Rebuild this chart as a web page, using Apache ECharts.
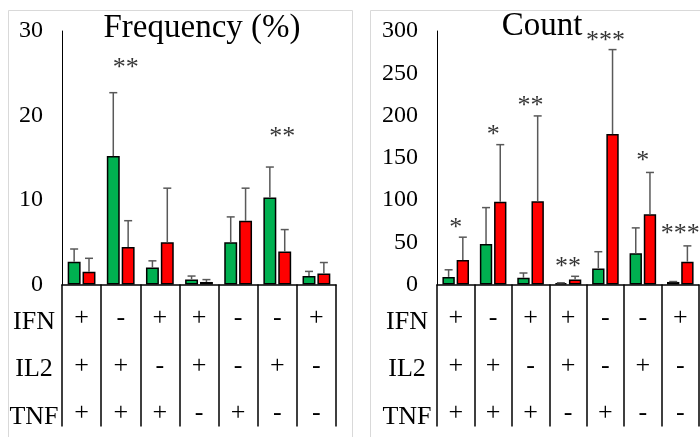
<!DOCTYPE html>
<html>
<head>
<meta charset="utf-8">
<script src="https://cdn.jsdelivr.net/npm/echarts@6/dist/echarts.min.js"></script>
<style>html,body{margin:0;padding:0;background:#fff}#c{width:700px;height:437px}</style>
</head>
<body>
<div id="c"></div>
<script>
// ---- data ----
var categories = ['1', '2', '3', '4', '5', '6', '7'];
var ifnRow = ['+', '-', '+', '+', '-', '-', '+'];
var il2Row = ['+', '+', '-', '+', '-', '+', '-'];
var tnfRow = ['+', '+', '+', '-', '+', '-', '-'];
var rowNames = ['IFN', 'IL2', 'TNF'];

var freqGreen = [2.7, 15.2, 2.0, 0.6, 5.0, 10.3, 1.0];
var freqGreenErr = [1.5, 7.5, 0.8, 0.4, 3.0, 3.6, 0.55];
var freqRed = [1.5, 4.45, 5.0, 0.3, 7.55, 3.9, 1.3];
var freqRedErr = [1.6, 3.1, 6.4, 0.28, 3.85, 2.6, 1.3];
var freqSig = ['', '**', '', '', '', '**', ''];
var freqSigPos = [null, 26.2, null, null, null, 18.0, null];

var countGreen = [9, 48, 8, 1.5, 19, 37, 3];
var countGreenErr = [8.4, 43, 5.6, 0.5, 19.8, 30, 0.5];
var countRed = [29, 98, 98.5, 5.8, 178, 83, 27];
var countRedErr = [27, 67.5, 101, 3.9, 100, 49.6, 18.7];
var countSig = ['*', '*', '**', '**', '***', '*', '***'];
var countSigPos = [72, 182.6, 217, 26.7, 294, 152, 65];

var yTicksFreq = {min: 0, max: 30, interval: 10};
var yTicksCount = {min: 0, max: 300, interval: 50};
var titles = ['Frequency (%)', 'Count'];

// ---- styling ----
var SERIF = 'Liberation Serif';
var GREEN = '#00b050', RED = '#ff0000';
var CAT_GAP = 0.29, BAR_GAP = 0.15;

function errSeries(gi, vals, errs, side) {
  return {
    type: 'custom', xAxisIndex: gi, yAxisIndex: gi, z: 5, silent: true,
    data: vals.map(function (v, i) { return [i, v, v + errs[i]]; }),
    renderItem: function (params, api) {
      var band = api.size([1, 0])[0];
      var bw = band * (1 - CAT_GAP) / (2 + BAR_GAP);
      var off = side * bw * (1 + BAR_GAP) / 2;
      var p0 = api.coord([api.value(0), api.value(1)]);
      var p1 = api.coord([api.value(0), api.value(2)]);
      var x = p0[0] + off;
      var st = {stroke: '#595959', lineWidth: 1.5};
      return {type: 'group', children: [
        {type: 'line', shape: {x1: x, y1: p0[1], x2: x, y2: p1[1]}, style: st},
        {type: 'line', shape: {x1: x - 4, y1: p1[1], x2: x + 4, y2: p1[1]}, style: st}
      ]};
    }
  };
}

function barSeries(gi, vals, color) {
  return {
    type: 'bar', xAxisIndex: gi, yAxisIndex: gi, data: vals,
    barCategoryGap: (CAT_GAP * 100) + '%', barGap: (BAR_GAP * 100) + '%',
    itemStyle: {color: color, borderColor: '#000', borderWidth: 1.5},
    silent: true
  };
}

function sigSeries(gi, labels, pos, dx) {
  return {
    type: 'scatter', xAxisIndex: gi, yAxisIndex: gi, symbolSize: 1, z: 6, silent: true,
    itemStyle: {color: 'rgba(0,0,0,0)'},
    data: pos.map(function (p, i) { return p == null ? null : {value: [i, p], lab: labels[i]}; }).filter(function (d) { return d; }),
    label: {
      show: true, position: 'inside', offset: [dx, 5],
      formatter: function (p) { return p.data.lab; },
      fontFamily: SERIF, fontSize: 26, color: '#000'
    }
  };
}

var grids = [
  {left: 62, right: 364, top: 31, bottom: 147},
  {left: 437, right: 1, top: 31, bottom: 147}
];

function xAxis(gi) {
  return {
    type: 'category', gridIndex: gi, data: categories,
    axisLine: {lineStyle: {color: '#000', width: 1.5}},
    axisTick: {show: true, interval: 0, length: 142, lineStyle: {color: '#000', width: 1.5}},
    axisLabel: {
      interval: 0, margin: 10, fontFamily: SERIF, fontSize: 26, lineHeight: 47.5, color: '#000',
      formatter: function (v, i) { return ifnRow[i] + '\n' + il2Row[i] + '\n' + tnfRow[i]; }
    }
  };
}
function yAxis(gi, t) {
  return {
    type: 'value', gridIndex: gi, min: t.min, max: t.max, interval: t.interval,
    splitLine: {show: false},
    axisLine: {show: true, lineStyle: {color: '#000', width: 1}},
    axisTick: {show: false},
    axisLabel: {margin: 19, fontFamily: SERIF, fontSize: 24, color: '#000'}
  };
}

var graphics = [
  {type: 'rect', shape: {x: 8.5, y: 10.5, width: 344, height: 440}, style: {fill: 'none', stroke: '#d9d9d9', lineWidth: 1}, z: -1},
  {type: 'rect', shape: {x: 370.5, y: 10.5, width: 340, height: 440}, style: {fill: 'none', stroke: '#d9d9d9', lineWidth: 1}, z: -1},
  {type: 'text', x: 202, y: 28, style: {text: titles[0], font: '33px ' + SERIF, fill: '#000', textAlign: 'center', textVerticalAlign: 'middle'}},
  {type: 'text', x: 542, y: 26, style: {text: titles[1], font: '33px ' + SERIF, fill: '#000', textAlign: 'center', textVerticalAlign: 'middle'}}
];
var rowY = [322, 369, 417];
var rowX = [34, 407];
rowX.forEach(function (x) {
  rowNames.forEach(function (n, k) {
    graphics.push({type: 'text', x: x, y: rowY[k], style: {text: n, font: '26px ' + SERIF, fill: '#000', textAlign: 'center', textVerticalAlign: 'middle'}});
  });
});

var chart = echarts.init(document.getElementById('c'), null, {renderer: 'canvas'});
chart.setOption({
  animation: false,
  backgroundColor: '#fff',
  grid: grids,
  xAxis: [xAxis(0), xAxis(1)],
  yAxis: [yAxis(0, yTicksFreq), yAxis(1, yTicksCount)],
  graphic: graphics,
  series: [
    barSeries(0, freqGreen, GREEN), barSeries(0, freqRed, RED),
    errSeries(0, freqGreen, freqGreenErr, -1), errSeries(0, freqRed, freqRedErr, 1),
    sigSeries(0, freqSig, freqSigPos, 5),
    barSeries(1, countGreen, GREEN), barSeries(1, countRed, RED),
    errSeries(1, countGreen, countGreenErr, -1), errSeries(1, countRed, countRedErr, 1),
    sigSeries(1, countSig, countSigPos, 0)
  ]
});
</script>
</body>
</html>
